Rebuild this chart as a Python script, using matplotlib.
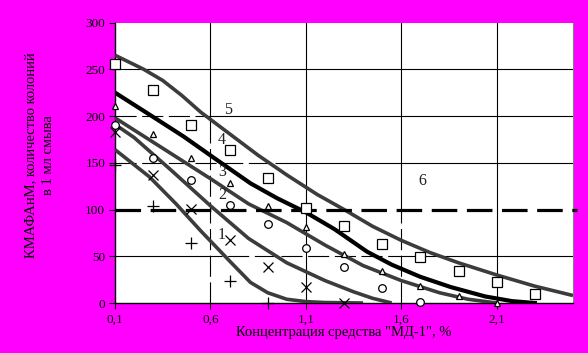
import matplotlib
matplotlib.use('Agg')
import matplotlib.pyplot as plt

plt.rcParams['font.family'] = ['Liberation Serif', 'DejaVu Serif']

# точки эксперимента (концентрация, КМАФАнМ)
conc = [0.1, 0.3, 0.5, 0.7, 0.9, 1.1, 1.3, 1.5, 1.7, 1.9, 2.1, 2.3]
sq = [256, 228, 190, 164, 134, 102, 82, 63, 49, 34, 22, 10]
tri = [211, 181, 155, 128, 104, 81, 52, 34, 18, 8, 0]
circ = [190, 155, 132, 105, 85, 59, 38, 16, 1]
xm = [183, 137, 101, 67, 39, 17, 0]
plus = [148, 104, 64, 24, 0]

# кривые 1-5
c5_x = [0.1, 0.25, 0.35, 0.45, 0.55, 0.7, 0.85, 1.0, 1.16, 1.3, 1.45, 1.6, 1.75, 1.9, 2.1, 2.3, 2.5]
c5_y = [265, 250, 238, 222, 204, 181, 158, 137, 116, 100, 82, 67, 54, 43, 30, 18, 8]
c4_x = [0.1, 0.3, 0.46, 0.62, 0.81, 0.95, 1.1, 1.25, 1.42, 1.55, 1.7, 1.86, 2.04, 2.18, 2.3]
c4_y = [225, 199, 178, 155, 128, 112, 97, 79, 55, 41, 28, 17, 7, 2, 0]
c3_x = [0.1, 0.3, 0.6, 0.8, 1.0, 1.2, 1.4, 1.6, 1.8, 1.95, 2.1]
c3_y = [198, 172, 133, 106, 86, 62, 40, 24, 11, 4, 0]
c2_x = [0.1, 0.2, 0.4, 0.6, 0.8, 1.0, 1.2, 1.35, 1.45, 1.55]
c2_y = [191, 177, 141, 104, 69, 43, 24, 12, 5, 0]
c1_x = [0.1, 0.28, 0.42, 0.55, 0.7, 0.81, 0.9, 1.0, 1.1, 1.2, 1.4]
c1_y = [164, 135, 106, 77, 45, 22, 11, 4, 1.5, 0.5, 0]
c6_x = [0.1, 2.52]
c6_y = [100, 100]

labels = ['1', '2', '3', '4', '5', '6']
lab_x = [0.64, 0.64, 0.64, 0.64, 0.67, 1.69]
lab_y = [73, 115, 140, 174, 206, 131]

fig = plt.figure(figsize=(5.88, 3.53), dpi=100)
fig.patch.set_facecolor('#ff00ff')
ax = fig.add_axes([115/588, 1-303/353, 458/588, 280.5/353])
ax.set_facecolor('white')
ax.set_xlim(0.1, 2.5)
ax.set_ylim(0, 300)

# сетка (частично пунктирная, как на оригинале)
gdash = (0, (19, 5))
def hseg(y, x0, x1, ls='-'):
    ax.plot([x0, x1], [y, y], color='black', lw=0.8, ls=ls, zorder=1)
def vseg(x, y0, y1, ls='-'):
    ax.plot([x, x], [y0, y1], color='black', lw=0.8, ls=ls, zorder=1)
hseg(250, 0.1, 2.5)
hseg(200, 0.1, 0.6, gdash); hseg(200, 0.6, 2.5)
hseg(150, 0.1, 1.0, gdash); hseg(150, 1.0, 2.5)
hseg(50, 0.1, 0.55); hseg(50, 0.55, 1.6, gdash); hseg(50, 1.6, 2.5)
vseg(0.6, 185, 300); vseg(0.6, 0, 185, gdash)
vseg(1.1, 0, 300)
vseg(1.6, 100, 300); vseg(1.6, 0, 100, gdash)
vseg(2.1, 0, 300)

gray = '#3c3c3c'
for cx, cy in [(c5_x, c5_y), (c3_x, c3_y), (c2_x, c2_y), (c1_x, c1_y)]:
    ax.plot(cx, cy, color=gray, lw=2.6, solid_joinstyle='round', solid_capstyle='butt', zorder=3)
ax.plot(c4_x, c4_y, color='black', lw=3.0, solid_joinstyle='round', zorder=3)
ax.plot(c6_x, c6_y, color='black', lw=2.3, dashes=(8, 3), zorder=3, clip_on=False)

mk = dict(ls='none', color='black', zorder=5, clip_on=False)
ax.plot(conc[:len(sq)], sq, marker='s', ms=6.5, mfc='white', mew=0.9, **mk)
ax.plot(conc[:len(tri)], tri, marker='^', ms=5, mfc='white', mew=0.9, **mk)
ax.plot(conc[:len(circ)], circ, marker='o', ms=5.5, mfc='white', mew=0.9, **mk)
ax.plot(conc[:len(xm)], xm, marker='x', ms=7.5, mew=0.9, **mk)
ax.plot(conc[:len(plus)], plus, marker='+', ms=8.5, mew=0.9, **mk)

for t, x, y in zip(labels, lab_x, lab_y):
    ax.text(x, y, t, fontsize=11.5, color='#202020', ha='left', va='center', zorder=6)

ax.set_xticks([0.1, 0.6, 1.1, 1.6, 2.1])
ax.set_xticklabels(['0,1', '0,6', '1,1', '1,6', '2,1'])
ax.set_yticks(range(0, 301, 50))
ax.tick_params(direction='out', length=4, width=0.8, labelsize=9.5, colors='black', pad=3)
ax.tick_params(axis='x', pad=4)
for s in ['left', 'bottom']:
    ax.spines[s].set_color('black')
    ax.spines[s].set_linewidth(1.0)
ax.spines['top'].set_visible(False)
ax.spines['right'].set_color('#808080')

ax.set_xlabel('Концентрация средства "МД-1", %', fontsize=10.5, labelpad=0)
fig.text(40/588, 1-155/353, 'КМАФАнМ, количество колоний\nв 1 мл смыва', rotation=90,
         ha='center', va='center', fontsize=10.5, multialignment='center', linespacing=1.5)

plt.savefig('out.png', dpi=100, facecolor=fig.get_facecolor())
